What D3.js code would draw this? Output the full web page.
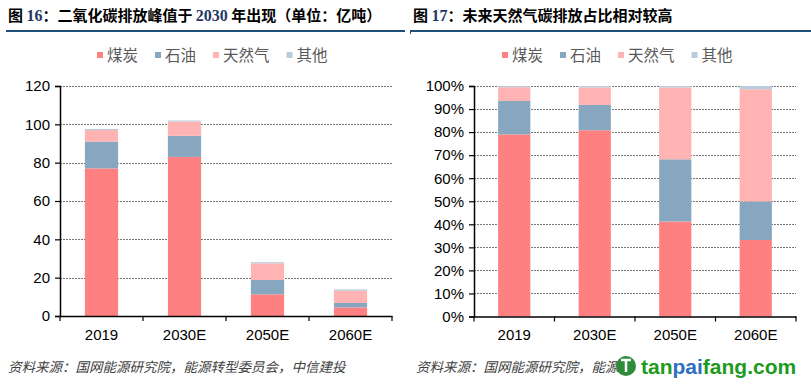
<!DOCTYPE html>
<html><head><meta charset="utf-8">
<script src="https://cdn.jsdelivr.net/npm/d3@7"></script>
<style>body{margin:0;background:#fff}svg{display:block}</style>
</head><body>
<svg id="c" width="811" height="386"></svg>
<script>
const categories = ["2019","2030E","2050E","2060E"];
const seriesNames = ["煤炭","石油","天然气","其他"];
// Figure 16: CO2 emissions (亿吨)
const coalAbs  = [77.0, 83.0, 11.3, 4.5];
const oilAbs   = [14.0, 11.0, 7.5, 2.3];
const gasAbs   = [6.0, 7.5, 8.7, 6.4];
const otherAbs = [0.6, 0.5, 0.6, 0.7];
// Figure 17: share (%)
const coalPct  = [79.0, 80.8, 41.2, 33.2];
const oilPct   = [14.5, 11.0, 27.0, 16.7];
const gasPct   = [6.0, 7.6, 31.2, 48.7];
const otherPct = [0.5, 0.6, 0.6, 1.4];
const leftTicks = [0,20,40,60,80,100,120];
const rightTicks = [0,10,20,30,40,50,60,70,80,90,100];
const colors = ["#FF8080","#86A7BF","#FFB3B3","#B9CCDD"];

const svg = d3.select("#c");
const CJK = "'Noto Sans CJK SC', sans-serif";

function title(x, parts){
  const t = svg.append("text").attr("x",x).attr("y",21).attr("font-size",15).attr("font-weight","bold");
  parts.forEach(p=>{
    t.append("tspan").text(p[0])
     .attr("font-family", p[1] ? "'Liberation Serif', serif" : CJK)
     .attr("fill", p[1] ? "#1F3864" : "#000")
     .attr("font-size", p[1] ? 16 : 15);
  });
}
title(8, [["图 ",0],["16",1],["：二氧化碳排放峰值于 ",0],["2030",1],[" 年出现（单位：亿吨）",0]]);
title(413, [["图 ",0],["17",1],["：未来天然气碳排放占比相对较高",0]]);
svg.append("line").attr("x1",6).attr("x2",405).attr("y1",31).attr("y2",31).attr("stroke","#1F4E79").attr("stroke-width",2);
svg.append("line").attr("x1",410).attr("x2",811).attr("y1",31).attr("y2",31).attr("stroke","#1F4E79").attr("stroke-width",2);
svg.append("line").attr("x1",410.5).attr("x2",410.5).attr("y1",31).attr("y2",34).attr("stroke","#1F4E79").attr("stroke-width",1);

function legend(x0){
  let x = x0;
  seriesNames.forEach((n,i)=>{
    svg.append("rect").attr("x",x).attr("y",52).attr("width",6).attr("height",6).attr("fill",colors[i]);
    const t = svg.append("text").attr("x",x+10).attr("y",60.5).attr("font-size",15.5)
      .attr("font-family",CJK).attr("fill","#595959").text(n);
    x = x + 10 + t.node().getComputedTextLength() + 17;
  });
}
legend(97); legend(502);

function chart(opt){
  const g = svg.append("g");
  const x = d3.scaleBand().domain(categories).range([opt.x0,opt.x1]).paddingInner(0.6).paddingOuter(0.3);
  const xb = d3.scaleBand().domain(categories).range([opt.x0,opt.x1]);
  const y = d3.scaleLinear().domain([0,opt.max]).range([opt.y0,opt.y1]);
  g.selectAll(".grid").data(opt.ticks.filter(d=>d>0)).join("line")
    .attr("x1",opt.x0).attr("x2",opt.x1).attr("y1",d=>Math.round(y(d))+0.5).attr("y2",d=>Math.round(y(d))+0.5)
    .attr("stroke","#555").attr("stroke-width",0.8).attr("stroke-dasharray","2,1");
  const rows = categories.map((c,i)=>({cat:c, s0:opt.data[0][i], s1:opt.data[1][i], s2:opt.data[2][i], s3:opt.data[3][i]}));
  const stack = d3.stack().keys(["s0","s1","s2","s3"])(rows);
  stack.forEach((layer,li)=>{
    g.selectAll(null).data(layer).join("rect")
      .attr("x",d=>x(d.data.cat)).attr("width",x.bandwidth())
      .attr("y",d=>y(d[1])).attr("height",d=>y(d[0])-y(d[1]))
      .attr("fill",colors[li]);
  });
  const ya = d3.axisLeft(y).tickValues(opt.ticks).tickSize(5).tickPadding(5).tickFormat(opt.fmt);
  const yg = g.append("g").attr("transform",`translate(${opt.x0},0)`).call(ya);
  yg.select(".domain").attr("stroke","#000").attr("stroke-width",1.5);
  yg.selectAll(".tick line").attr("stroke","#000").attr("stroke-width",1.2);
  yg.selectAll("text").attr("font-family","'Liberation Sans', Arial, sans-serif").attr("font-size",15).attr("fill","#000");
  const xa = d3.axisBottom(xb).tickSize(0).tickPadding(13);
  const xg = g.append("g").attr("transform",`translate(0,${opt.y0})`).call(xa);
  xg.select(".domain").attr("stroke","#000").attr("stroke-width",1.5);
  xg.selectAll("text").attr("font-family","'Liberation Sans', Arial, sans-serif").attr("font-size",15).attr("fill","#000");
  const bounds = categories.map(c=>xb(c)).concat([opt.x1]);
  g.selectAll(".xt").data(bounds).join("line")
    .attr("x1",d=>d).attr("x2",d=>d).attr("y1",opt.y0).attr("y2",opt.y0+5)
    .attr("stroke","#000").attr("stroke-width",1.2);
}
chart({x0:60,x1:392,y0:316,y1:86,max:120,ticks:leftTicks,fmt:d=>d,data:[coalAbs,oilAbs,gasAbs,otherAbs]});
chart({x0:474,x1:796,y0:316.5,y1:86,max:100,ticks:rightTicks,fmt:d=>d+"%",data:[coalPct,oilPct,gasPct,otherPct]});

// source
svg.append("text").attr("x",8).attr("y",372).attr("font-size",13.5).attr("font-style","italic")
  .attr("font-family",CJK).attr("fill","#404040").text("资料来源：国网能源研究院，能源转型委员会，中信建投");
svg.append("text").attr("x",416).attr("y",372).attr("font-size",13.5).attr("font-style","italic")
  .attr("font-family",CJK).attr("fill","#404040").text("资料来源：国网能源研究院，能源");
// watermark
svg.append("circle").attr("cx",626).attr("cy",366).attr("r",10).attr("fill","#2E8B3A");
svg.append("path").attr("d","M621,360 h10 M626,360 v12").attr("stroke","#fff").attr("stroke-width",2.5).attr("fill","none");
const wm = svg.append("text").attr("x",641).attr("y",374).attr("font-size",21).attr("font-weight","bold")
  .attr("font-family","'Liberation Sans', Arial, sans-serif");
wm.append("tspan").text("tan").attr("fill","#1E9A1E");
wm.append("tspan").text("pai").attr("fill","#2F6FC0");
wm.append("tspan").text("fang.com").attr("fill","#1E9A1E");
</script>
</body></html>
